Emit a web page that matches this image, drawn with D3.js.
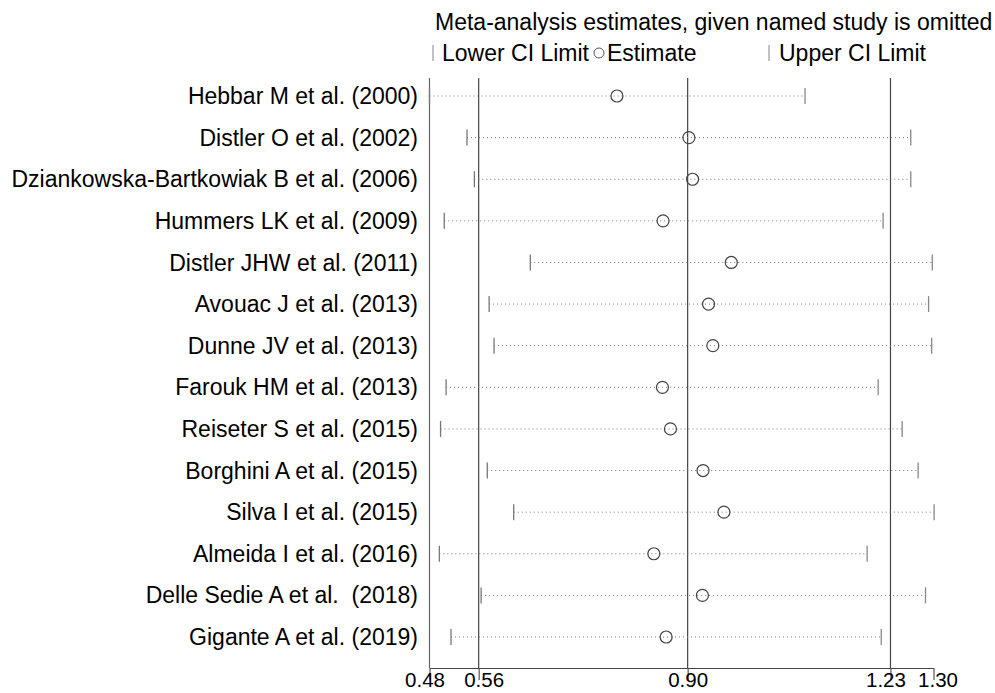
<!DOCTYPE html>
<html><head><meta charset="utf-8">
<script src="https://cdn.jsdelivr.net/npm/d3@7"></script>
<style>body{margin:0;background:#fff}svg{display:block}text{font-family:"Liberation Sans",Arial,sans-serif;fill:#000;white-space:pre}</style>
</head><body><svg id="c" width="995" height="693"></svg>
<script>
const studies = ["Hebbar M et al. (2000)","Distler O et al. (2002)","Dziankowska-Bartkowiak B et al. (2006)","Hummers LK et al. (2009)","Distler JHW et al. (2011)","Avouac J et al. (2013)","Dunne JV et al. (2013)","Farouk HM et al. (2013)","Reiseter S et al. (2015)","Borghini A et al. (2015)","Silva I et al. (2015)","Almeida I et al. (2016)","Delle Sedie A et al.  (2018)","Gigante A et al. (2019)"];
const lower = [0.48,0.541,0.553,0.504,0.644,0.577,0.585,0.507,0.498,0.574,0.617,0.496,0.564,0.515];
const estimate = [0.785,0.902,0.908,0.860,0.971,0.934,0.941,0.859,0.872,0.925,0.959,0.845,0.924,0.865];
const upper = [1.091,1.263,1.263,1.218,1.298,1.292,1.297,1.210,1.249,1.275,1.301,1.192,1.287,1.215];
const tickValues = [0.48,0.56,0.90,1.23,1.30];
const refLines = [0.56,0.90,1.23];

const FS = 23;
const svg = d3.select("#c");
const x = d3.scaleLinear().domain([0.48,1.30]).range([429.5,933.5]);
const y = d3.scalePoint().domain(studies).range([96,637]);
const plotTop = 78, axisY = 668;
const labelShift = {"0.48":-5,"0.56":5,"0.90":0,"1.23":-5,"1.30":4};

// reference vertical lines
svg.selectAll("line.ref").data([0.48].concat(refLines)).enter().append("line")
  .attr("x1",d=>x(d)).attr("x2",d=>x(d)).attr("y1",plotTop).attr("y2",axisY)
  .attr("stroke",d=>d===0.48?"#666":"#444").attr("stroke-width",1.2);

// axis
const ax = d3.axisBottom(x).tickValues(tickValues).tickFormat(d3.format(".2f")).tickSize(12).tickSizeOuter(0);
const g = svg.append("g").attr("transform",`translate(0,${axisY})`).call(ax);
g.select(".domain").attr("stroke","#444").attr("stroke-width",1.2);
g.selectAll(".tick line").attr("stroke","#555").attr("stroke-width",1.2);
g.selectAll(".tick text").attr("font-size",20.5).attr("dy","0.62em").attr("y",6)
  .attr("dx",d=>labelShift[d3.format(".2f")(d)] || 0)
  .style("font-family","'Liberation Sans',Arial,sans-serif").attr("fill","#000");

// rows
const rows = svg.selectAll("g.row").data(studies).enter().append("g");
rows.append("line").attr("x1",(d,i)=>x(lower[i])).attr("x2",(d,i)=>x(upper[i]))
  .attr("y1",d=>y(d)).attr("y2",d=>y(d)).attr("stroke","#777").attr("stroke-width",1)
  .attr("stroke-dasharray","1,3");
rows.append("line").attr("x1",(d,i)=>x(lower[i])).attr("x2",(d,i)=>x(lower[i]))
  .attr("y1",d=>y(d)-8).attr("y2",d=>y(d)+8).attr("stroke","#777").attr("stroke-width",1.3);
rows.append("line").attr("x1",(d,i)=>x(upper[i])).attr("x2",(d,i)=>x(upper[i]))
  .attr("y1",d=>y(d)-8).attr("y2",d=>y(d)+8).attr("stroke","#888").attr("stroke-width",1.3);
rows.append("circle").attr("cx",(d,i)=>x(estimate[i])).attr("cy",d=>y(d)).attr("r",6)
  .attr("fill","none").attr("stroke","#444").attr("stroke-width",1.2);
rows.append("text").attr("x",418).attr("y",d=>y(d)).attr("dy","0.35em")
  .attr("text-anchor","end").attr("font-size",FS).text(d=>d);

// title + legend
svg.append("text").attr("x",435).attr("y",30).attr("font-size",FS).text("Meta-analysis estimates, given named study is omitted");
svg.append("line").attr("x1",433).attr("x2",433).attr("y1",45).attr("y2",61).attr("stroke","#999").attr("stroke-width",1.2);
svg.append("text").attr("x",442).attr("y",61).attr("font-size",FS).text("Lower CI Limit");
svg.append("circle").attr("cx",599).attr("cy",53).attr("r",5).attr("fill","none").attr("stroke","#555").attr("stroke-width",1);
svg.append("text").attr("x",607).attr("y",61).attr("font-size",FS).text("Estimate");
svg.append("line").attr("x1",769).attr("x2",769).attr("y1",45).attr("y2",61).attr("stroke","#999").attr("stroke-width",1.2);
svg.append("text").attr("x",779).attr("y",61).attr("font-size",FS).text("Upper CI Limit");
</script></body></html>
